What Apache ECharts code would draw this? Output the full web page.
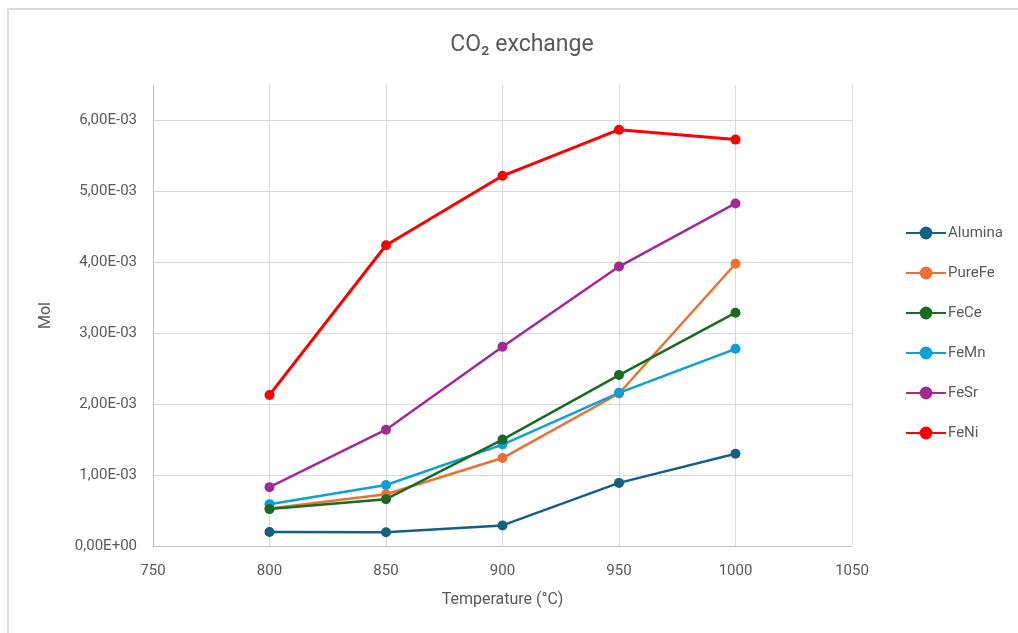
<!DOCTYPE html>
<html>
<head>
<meta charset="utf-8">
<script src="https://cdn.jsdelivr.net/npm/echarts@6/dist/echarts.min.js"></script>
<style>html,body{margin:0;padding:0;background:#fff}#c{width:1018px;height:633px}</style>
</head>
<body>
<div id="c"></div>
<script>
const temperatures = [800, 850, 900, 950, 1000];
const seriesNames = ['Alumina', 'PureFe', 'FeCe', 'FeMn', 'FeSr', 'FeNi'];
const alumina = [0.000198, 0.000195, 0.000290, 0.000890, 0.001300];
const pureFe  = [0.000530, 0.000730, 0.001240, 0.002150, 0.003980];
const feCe    = [0.000520, 0.000660, 0.001500, 0.002410, 0.003290];
const feMn    = [0.000590, 0.000860, 0.001430, 0.002160, 0.002780];
const feSr    = [0.000830, 0.001640, 0.002810, 0.003940, 0.004830];
const feNi    = [0.002130, 0.004240, 0.005220, 0.005870, 0.005730];
const colors  = ['#156082', '#E97132', '#196B24', '#0F9ED5', '#A02B93', '#FF0000'];
const allValues = [alumina, pureFe, feCe, feMn, feSr, feNi];

function sci(v) {
  if (Math.abs(v) < 1e-12) return '0,00E+00';
  let e = Math.floor(Math.log10(Math.abs(v)) + 1e-9);
  let m = v / Math.pow(10, e);
  let ms = m.toFixed(2).replace('.', ',');
  let es = (e < 0 ? '-' : '+') + String(Math.abs(e)).padStart(2, '0');
  return ms + 'E' + es;
}

const font = 'Roboto, "Open Sans", sans-serif';
const chart = echarts.init(document.getElementById('c'), null, {renderer: 'canvas'});
chart.setOption({
  animation: false,
  backgroundColor: '#ffffff',
  graphic: [{
    type: 'rect', shape: {x: 8, y: 9, width: 1100, height: 700},
    style: {fill: 'none', stroke: '#d9d9d9', lineWidth: 2}, silent: true
  }],
  title: {
    text: 'CO₂ exchange', left: 517, top: 29, textAlign: 'center',
    textStyle: {fontFamily: font, fontSize: 23, fontWeight: 'normal', color: '#595959'}
  },
  legend: {
    orient: 'vertical', left: 900, top: 220, itemGap: 24, itemWidth: 40, itemHeight: 16,
    data: seriesNames,
    textStyle: {fontFamily: font, fontSize: 15, color: '#595959', padding: [0, 0, 0, -3], lineHeight: 16}
  },
  grid: {left: 153, right: 166, top: 85, bottom: 87, containLabel: false},
  xAxis: {
    type: 'value', min: 750, max: 1050, interval: 50,
    name: 'Temperature (°C)', nameLocation: 'middle', nameGap: 46,
    nameTextStyle: {fontFamily: font, fontSize: 16, color: '#595959'},
    axisLine: {show: true, lineStyle: {color: '#bfbfbf', width: 1}},
    axisTick: {show: false},
    axisLabel: {fontFamily: font, fontSize: 15, color: '#595959', margin: 18,
      formatter: function (v) { return String(v); }},
    splitLine: {show: true, lineStyle: {color: '#d9d9d9', width: 1}}
  },
  yAxis: {
    type: 'value', min: 0, max: 0.0065, interval: 0.001,
    name: 'Mol', nameLocation: 'middle', nameGap: 99, nameRotate: 90,
    nameTextStyle: {fontFamily: font, fontSize: 16, color: '#595959'},
    axisLine: {show: true, lineStyle: {color: '#bfbfbf', width: 1}},
    axisTick: {show: false},
    axisLabel: {fontFamily: font, fontSize: 15, color: '#595959', margin: 16, showMaxLabel: false,
      formatter: function (v) { return sci(v); }},
    splitLine: {show: true, showMaxLine: false, lineStyle: {color: '#d9d9d9', width: 1}}
  },
  series: seriesNames.map(function (n, i) {
    return {
      name: n, type: 'line',
      data: temperatures.map(function (t, j) { return [t, allValues[i][j]]; }),
      symbol: 'circle', symbolSize: 10,
      lineStyle: {color: colors[i], width: n === 'FeNi' ? 3 : 2.5},
      itemStyle: {color: colors[i]},
      z: 2 + (i === 2 ? 1 : 0)
    };
  })
});
</script>
</body>
</html>
